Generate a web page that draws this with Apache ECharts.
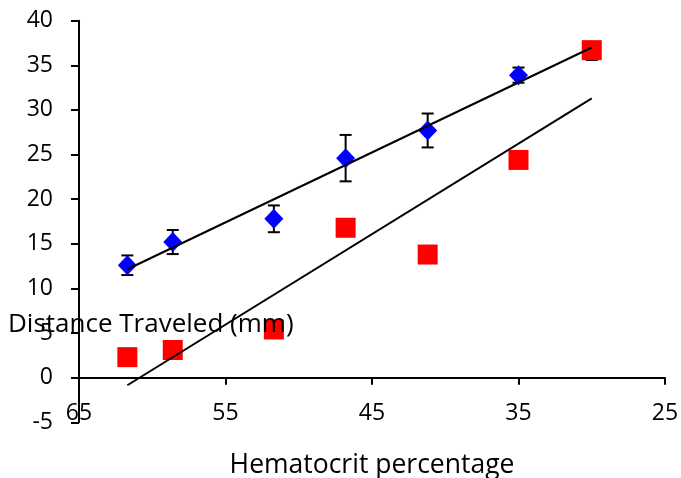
<!DOCTYPE html>
<html>
<head>
<meta charset="utf-8">
<script src="https://cdn.jsdelivr.net/npm/echarts@6/dist/echarts.min.js"></script>
<style>html,body{margin:0;padding:0;background:#fff}#c{width:681px;height:478px}</style>
</head>
<body>
<div id="c"></div>
<script>
// Hematocrit percentage (x)
var hematocrit = [61.7, 58.6, 51.7, 46.8, 41.2, 35.0, 30.0];
// Blue diamonds with error bars
var blueValues = [12.6, 15.2, 17.8, 24.6, 27.7, 33.9, 36.6];
var blueErrors = [1.1, 1.35, 1.5, 2.6, 1.9, 0.85, 1.0];
// Red squares
var redValues = [2.3, 3.1, 5.4, 16.8, 13.8, 24.4, 36.7];
// Trendline endpoints
var blueTrendX = [61.7, 30.0];
var blueTrendY = [12.15, 37.0];
var redTrendX = [61.7, 30.0];
var redTrendY = [-0.85, 31.3];
var xTicks = [25, 35, 45, 55, 65];
var yTicks = [-5, 0, 5, 10, 15, 20, 25, 30, 35, 40];

var FONT = '"Open Sans", sans-serif';
function pairs(xs, ys) { return xs.map(function (x, i) { return [x, ys[i]]; }); }
var errData = hematocrit.map(function (x, i) { return [x, blueValues[i], blueErrors[i]]; });

var chart = echarts.init(document.getElementById('c'));
chart.setOption({
  animation: false,
  backgroundColor: '#fff',
  grid: { left: 79, right: 16, top: 20.7, bottom: 55.7, containLabel: false, outerBoundsMode: 'none' },
  xAxis: {
    type: 'value', inverse: true,
    min: xTicks[0], max: xTicks[xTicks.length - 1], interval: 10,
    name: 'Hematocrit percentage', nameLocation: 'middle', nameGap: 30,
    nameTextStyle: { fontFamily: FONT, fontSize: 26.5, color: '#000' },
    axisLine: { onZero: true, lineStyle: { color: '#000', width: 2 } },
    axisTick: { show: true, inside: false, length: 7, lineStyle: { color: '#000', width: 2 } },
    axisLabel: { fontFamily: FONT, fontSize: 23, color: '#000', margin: -20 },
    splitLine: { show: false }
  },
  yAxis: {
    type: 'value', min: yTicks[0], max: yTicks[yTicks.length - 1], interval: 5,
    axisLine: { show: true, onZero: false, lineStyle: { color: '#000', width: 2 } },
    axisTick: { show: true, inside: false, length: 8, lineStyle: { color: '#000', width: 2 } },
    axisLabel: { fontFamily: FONT, fontSize: 23, color: '#000', margin: 26 },
    splitLine: { show: false }
  },
  graphic: [{
    type: 'text', left: 8, top: 312, z: 100,
    style: { text: 'Distance Traveled (mm)', fontFamily: FONT, fontSize: 26, fill: '#000' }
  }],
  series: [
    {
      type: 'custom', z: 2, data: errData,
      renderItem: function (params, api) {
        var x = api.value(0), y = api.value(1), e = api.value(2);
        var hi = api.coord([x, y + e]), lo = api.coord([x, y - e]);
        var cw = 6;
        var st = { stroke: '#000', lineWidth: 2 };
        return { type: 'group', children: [
          { type: 'line', shape: { x1: hi[0], y1: hi[1], x2: lo[0], y2: lo[1] }, style: st },
          { type: 'line', shape: { x1: hi[0] - cw, y1: hi[1], x2: hi[0] + cw, y2: hi[1] }, style: st },
          { type: 'line', shape: { x1: lo[0] - cw, y1: lo[1], x2: lo[0] + cw, y2: lo[1] }, style: st }
        ] };
      }
    },
    {
      type: 'scatter', z: 3, symbol: 'diamond', symbolSize: [19, 20],
      itemStyle: { color: '#0000FF', opacity: 1 },
      data: pairs(hematocrit, blueValues)
    },
    {
      type: 'scatter', z: 4, symbol: 'rect', symbolSize: 20,
      itemStyle: { color: '#FF0000', opacity: 1 },
      data: pairs(hematocrit, redValues)
    },
    {
      type: 'line', z: 5, symbol: 'none', silent: true,
      lineStyle: { color: '#000', width: 2 },
      data: pairs(blueTrendX, blueTrendY)
    },
    {
      type: 'line', z: 5, symbol: 'none', silent: true,
      lineStyle: { color: '#000', width: 2 },
      data: pairs(redTrendX, redTrendY)
    }
  ]
});
</script>
</body>
</html>
